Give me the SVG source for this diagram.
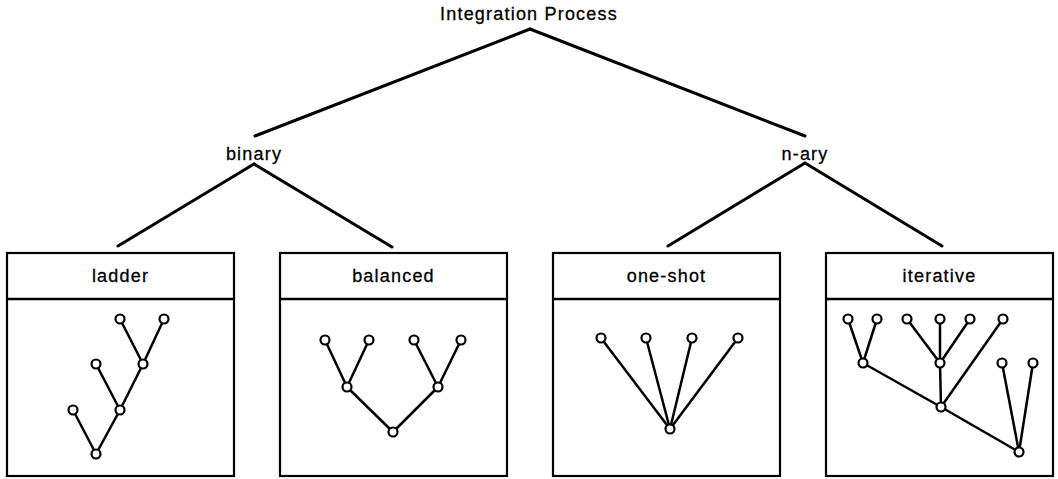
<svg xmlns="http://www.w3.org/2000/svg" width="1058" height="479" viewBox="0 0 1058 479">
<style>
text{font-family:"Liberation Sans",Arial,sans-serif;font-size:18px;fill:#000;stroke:#000;stroke-width:0.3;text-anchor:middle;letter-spacing:1.2px}
.e{stroke:#000;stroke-width:3;fill:none;stroke-linecap:round}
.t{stroke:#000;stroke-width:2.5;fill:none}
.box{fill:#fff;stroke:#000;stroke-width:2.2}
.n{fill:#fff;stroke:#000;stroke-width:2.2}
</style>
<rect width="1058" height="479" fill="#fff"/>
<g id="connectors" class="e">
<line x1="530" y1="29" x2="255" y2="136"/>
<line x1="530" y1="29" x2="805" y2="136"/>
<line x1="254" y1="164" x2="118" y2="246"/>
<line x1="254" y1="164" x2="392" y2="247"/>
<line x1="805" y1="163" x2="668" y2="246"/>
<line x1="805" y1="163" x2="942" y2="246"/>
</g>
<g id="root"><text x="529" y="20">Integration  Process</text></g>
<g id="binary"><text x="254" y="160">binary</text></g>
<g id="nary"><text x="805" y="160">n-ary</text></g>
<g id="ladder">
<rect class="box" x="7" y="253" width="227" height="223"/>
<line class="t" x1="7" y1="299" x2="234" y2="299"/>
<text x="120.5" y="282">ladder</text>
<g class="t">
<line x1="120" y1="319" x2="143" y2="364"/><line x1="164" y1="319" x2="143" y2="364"/>
<line x1="143" y1="364" x2="120" y2="410"/><line x1="96" y1="364" x2="120" y2="410"/>
<line x1="120" y1="410" x2="96" y2="454"/><line x1="73" y1="410" x2="96" y2="454"/>
</g>
<g class="n">
<circle cx="120" cy="319" r="4.5"/><circle cx="164" cy="319" r="4.5"/>
<circle cx="143" cy="364" r="4.5"/><circle cx="96" cy="364" r="4.5"/>
<circle cx="120" cy="410" r="4.5"/><circle cx="73" cy="410" r="4.5"/>
<circle cx="96" cy="454" r="4.5"/>
</g>
</g>
<g id="balanced">
<rect class="box" x="280" y="253" width="227" height="223"/>
<line class="t" x1="280" y1="299" x2="507" y2="299"/>
<text x="393.5" y="282">balanced</text>
<g class="t">
<line x1="325" y1="340" x2="347" y2="387"/><line x1="369" y1="340" x2="347" y2="387"/>
<line x1="414" y1="340" x2="438" y2="387"/><line x1="461" y1="340" x2="438" y2="387"/>
<line x1="347" y1="387" x2="393" y2="432"/><line x1="438" y1="387" x2="393" y2="432"/>
</g>
<g class="n">
<circle cx="325" cy="340" r="4.5"/><circle cx="369" cy="340" r="4.5"/>
<circle cx="414" cy="340" r="4.5"/><circle cx="461" cy="340" r="4.5"/>
<circle cx="347" cy="387" r="4.5"/><circle cx="438" cy="387" r="4.5"/>
<circle cx="393" cy="432" r="4.5"/>
</g>
</g>
<g id="one-shot">
<rect class="box" x="553" y="253" width="227" height="223"/>
<line class="t" x1="553" y1="299" x2="780" y2="299"/>
<text x="666.5" y="282">one-shot</text>
<g class="t">
<line x1="601" y1="338" x2="670" y2="429"/><line x1="646" y1="338" x2="670" y2="429"/>
<line x1="692" y1="338" x2="670" y2="429"/><line x1="738" y1="338" x2="670" y2="429"/>
</g>
<g class="n">
<circle cx="601" cy="338" r="4.5"/><circle cx="646" cy="338" r="4.5"/>
<circle cx="692" cy="338" r="4.5"/><circle cx="738" cy="338" r="4.5"/>
<circle cx="670" cy="429" r="4.5"/>
</g>
</g>
<g id="iterative">
<rect class="box" x="826" y="253" width="227" height="223"/>
<line class="t" x1="826" y1="299" x2="1053" y2="299"/>
<text x="939.5" y="282">iterative</text>
<g class="t">
<line x1="848" y1="319" x2="863" y2="363"/><line x1="877" y1="319" x2="863" y2="363"/>
<line x1="907" y1="319" x2="940" y2="363"/><line x1="940" y1="319" x2="940" y2="363"/><line x1="970" y1="319" x2="940" y2="363"/>
<line x1="863" y1="363" x2="941" y2="407"/><line x1="940" y1="363" x2="941" y2="407"/><line x1="1003" y1="319" x2="941" y2="407"/>
<line x1="941" y1="407" x2="1019" y2="452"/><line x1="1002" y1="363" x2="1019" y2="452"/><line x1="1033" y1="363" x2="1019" y2="452"/>
</g>
<g class="n">
<circle cx="848" cy="319" r="4.5"/><circle cx="877" cy="319" r="4.5"/>
<circle cx="907" cy="319" r="4.5"/><circle cx="940" cy="319" r="4.5"/>
<circle cx="970" cy="319" r="4.5"/><circle cx="1003" cy="319" r="4.5"/>
<circle cx="863" cy="363" r="4.5"/><circle cx="940" cy="363" r="4.5"/>
<circle cx="1002" cy="363" r="4.5"/><circle cx="1033" cy="363" r="4.5"/>
<circle cx="941" cy="407" r="4.5"/><circle cx="1019" cy="452" r="4.5"/>
</g>
</g>
</svg>
